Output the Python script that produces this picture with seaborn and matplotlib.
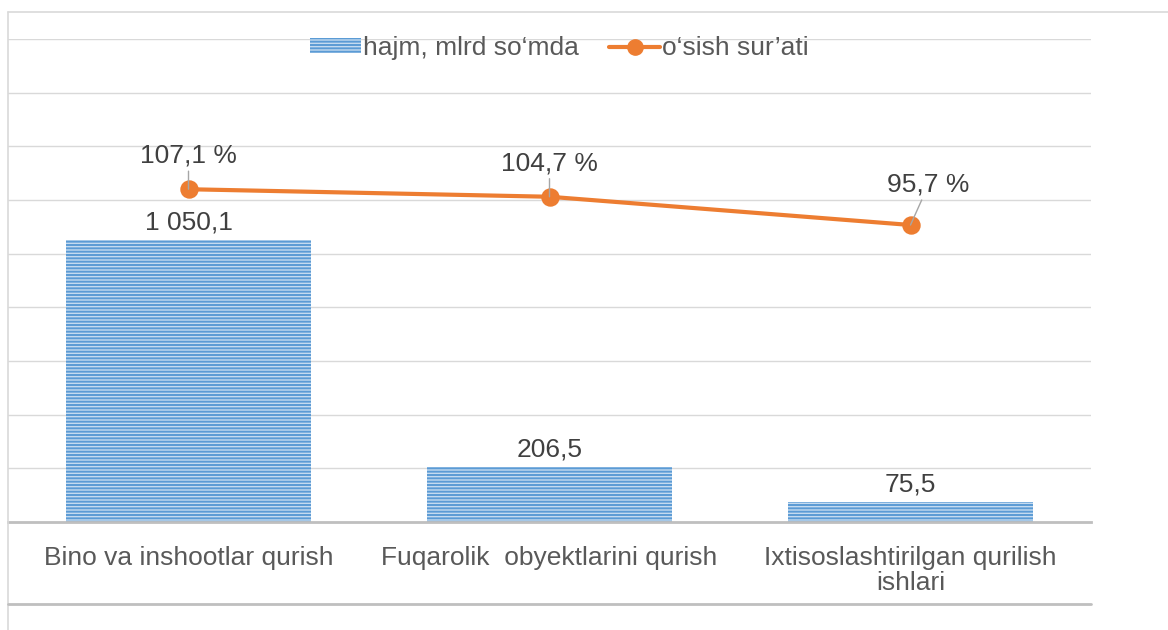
import matplotlib
matplotlib.use("Agg")
import matplotlib.pyplot as plt
import seaborn as sns
import pandas as pd
from matplotlib.patches import Patch
from matplotlib.lines import Line2D

# ---- data ----
categories = ["Bino va inshootlar qurish",
              "Fuqarolik  obyektlarini qurish",
              "Ixtisoslashtirilgan qurilish ishlari"]
tick_labels = ["Bino va inshootlar qurish",
               "Fuqarolik  obyektlarini qurish",
               "Ixtisoslashtirilgan qurilish\nishlari"]
volume = [1050.1, 206.5, 75.5]          # hajm, mlrd so'mda
growth = [107.1, 104.7, 95.7]           # o'sish sur'ati, %
series_names = ["hajm, mlrd so\u2018mda", "o\u2018sish sur\u2019ati"]

# ---- style ----
sns.set_theme(style="white")
plt.rcParams["font.family"] = ["Liberation Sans", "DejaVu Sans"]
plt.rcParams["hatch.linewidth"] = 1.4

BLUE_DARK = "#5b9bd5"
BLUE_LIGHT = "#c5dbf0"
ORANGE = "#ed7d31"
GRID = "#d9d9d9"
AXIS = "#bfbfbf"
TXT = "#595959"
LBL = "#404040"
FS = 19

W, H = 1168, 630
fig = plt.figure(figsize=(W / 100, H / 100), dpi=100)
ax = fig.add_axes([8 / W, (H - 522) / H, (1091 - 8) / W, (522 - 39) / H])

df = pd.DataFrame({"cat": categories, "vol": volume, "gr": growth})

sns.barplot(data=df, x="cat", y="vol", ax=ax, color=BLUE_LIGHT,
            width=0.677, saturation=1, zorder=2)
for p in ax.patches:
    p.set_facecolor(BLUE_LIGHT)
    p.set_edgecolor(BLUE_DARK)
    p.set_hatch("-----")
    p.set_linewidth(0)

ax.set_ylim(0, 1800)
ax.set_yticks(range(0, 1801, 200))
ax.yaxis.grid(True, color=GRID, linewidth=1.0, zorder=0)
ax.set_axisbelow(True)
for s in ["top", "right", "left"]:
    ax.spines[s].set_visible(False)
ax.spines["bottom"].set_color(AXIS)
ax.spines["bottom"].set_linewidth(2.0)
ax.set_xlabel("")
ax.set_ylabel("")


def fmt_num(v):
    s = f"{v:,.1f}"
    return s.replace(",", " ").replace(".", ",")


ax.bar_label(ax.containers[0], labels=[fmt_num(v) for v in volume],
             padding=4, fontsize=FS, color=LBL)

# ---- secondary axis: growth rate ----
ax2 = ax.twinx()
sns.pointplot(data=df, x="cat", y="gr", ax=ax2, color=ORANGE, markers="o",
              errorbar=None, linewidth=3.0, markersize=11)
ax2.set_ylim(1, 155)
ax2.set_yticks([])
ax2.set_ylabel("")
ax2.set_xlabel("")
for s in ax2.spines.values():
    s.set_visible(False)

offsets = [(0, 24), (0, 24), (13, 29)]
for i, (g, off) in enumerate(zip(growth, offsets)):
    ax2.annotate(f"{g:.1f} %".replace(".", ","), xy=(i, g), xytext=off,
                 textcoords="offset points", ha="center", va="center",
                 fontsize=FS, color=LBL, zorder=5,
                 arrowprops=dict(arrowstyle="-", color="#a6a6a6", lw=1.0,
                                 shrinkA=0, shrinkB=0))

ax.set_xlim(-0.5, 2.5)
ax2.set_xlim(-0.5, 2.5)
ax.set_xticks(range(len(categories)))
ax.set_xticklabels(tick_labels, fontsize=FS, color=TXT, linespacing=1.05)
ax.tick_params(axis="x", bottom=False, pad=11)
ax.tick_params(axis="y", left=False, right=False, labelleft=False)
ax2.tick_params(left=False, right=False, bottom=False, labelright=False)

# ---- legend ----
handles = [Patch(facecolor=BLUE_LIGHT, edgecolor=BLUE_DARK, hatch="-----", linewidth=0),
           Line2D([0], [0], color=ORANGE, lw=3.0, marker="o", markersize=11)]
fig.legend(handles, series_names, loc="center", bbox_to_anchor=(559 / W, (H - 48) / H),
           ncol=2, frameon=False, fontsize=FS, handlelength=1.95, handleheight=0.5,
           handletextpad=0.05, columnspacing=1.15, labelcolor=TXT)

# ---- chart frame lines ----
fig.add_artist(Line2D([8 / W, 1.0], [(H - 12) / H] * 2, color=GRID, lw=1.2))
fig.add_artist(Line2D([8 / W] * 2, [0, (H - 12) / H], color=GRID, lw=1.2))
fig.add_artist(Line2D([8 / W, 1091 / W], [(H - 604) / H] * 2, color=AXIS, lw=2.0))

fig.savefig("out.png", dpi=100, facecolor="white")
